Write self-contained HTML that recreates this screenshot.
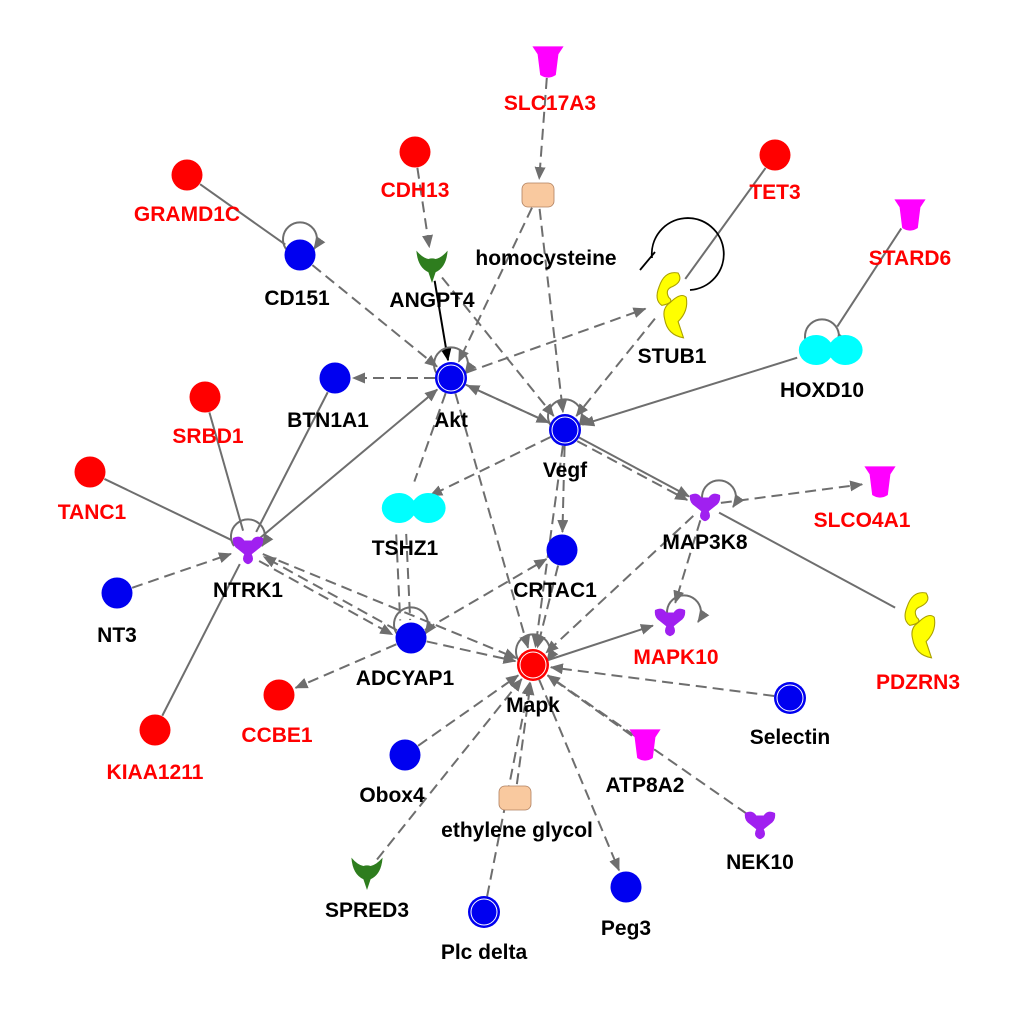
<!DOCTYPE html>
<html><head><meta charset="utf-8"><style>
html,body{margin:0;padding:0;background:#fff;}
svg{display:block;}
text{font-family:"Liberation Sans",Arial,sans-serif;font-weight:bold;font-size:21px;text-anchor:middle;}
.r{fill:#f00}.k{fill:#000}
</style></head><body>
<svg id="s" width="1020" height="1013" viewBox="0 0 1020 1013" xmlns="http://www.w3.org/2000/svg">
<defs>
<marker id="ag" markerWidth="13" markerHeight="11" refX="12" refY="5.5" orient="auto" markerUnits="userSpaceOnUse"><path d="M0,0 L13,5.5 L0,11 z" fill="#6e6e6e"/></marker>
<marker id="ab" markerWidth="13" markerHeight="11" refX="12" refY="5.5" orient="auto" markerUnits="userSpaceOnUse"><path d="M0,0 L13,5.5 L0,11 z" fill="#000"/></marker>
<g id="cup"><g transform="scale(1.3)"><path d="M-12,-12 L12,-12 L8,-6 L6,10 Q0,14 -6,10 L-8,-6 z" fill="#f0f"/></g></g>
<g id="kin"><g transform="scale(1.25)"><path d="M-12,-8 Q-6,-11 -3,-6 L3,-6 Q6,-11 12,-8 Q13,-2 8,1 L3,5 Q6,11 0,13 Q-6,11 -3,5 L-8,1 Q-13,-2 -12,-8 z" fill="#a020f0"/></g></g>
<g id="vshape"><g transform="scale(1.2)"><path d="M-13,-12 Q-8,-6 -3,-5 Q0,-6 3,-5 Q8,-6 13,-12 Q12,2 3,6 L0,15 L-3,6 Q-12,2 -13,-12 z" fill="#2e7d1e"/></g></g>
<g id="peanut"><g transform="scale(1.45,1.25)"><path d="M-22,0 A12,12 0 0 1 -10,-12 Q-4,-12 0,-6 Q4,-12 10,-12 A12,12 0 0 1 10,12 Q4,12 0,6 Q-4,12 -10,12 A12,12 0 0 1 -22,0 z" fill="#00ffff" transform="translate(6,0)"/></g></g>
<g id="peach"><rect x="-16" y="-12" width="32" height="24" rx="6" fill="#f9c99f" stroke="#b08060" stroke-width="0.8"/></g>
<g id="stub"><g transform="scale(1.35)"><path d="M-8,-10 Q-4,-22 6,-20 Q10,-14 2,-10 Q-4,-8 -1,-2 Q4,2 -6,4 Q-12,0 -8,-10 z M0,2 Q8,-6 12,-2 Q14,8 6,16 Q8,22 10,28 Q-2,26 -4,14 Q-6,6 0,2 z" fill="#ffff00" stroke="#aaa000" stroke-width="0.8"/></g></g>
</defs>
<g id="edges"></g>
<g id="nodes"></g>
<g id="labels">
<text x="550" y="110" class="r">SLC17A3</text>
<text x="415" y="197" class="r">CDH13</text>
<text x="187" y="221" class="r">GRAMD1C</text>
<text x="775" y="199" class="r">TET3</text>
<text x="910" y="265" class="r">STARD6</text>
<text x="546" y="265" class="k">homocysteine</text>
<text x="297" y="305" class="k">CD151</text>
<text x="432" y="307" class="k">ANGPT4</text>
<text x="672" y="363" class="k">STUB1</text>
<text x="822" y="397" class="k">HOXD10</text>
<text x="451" y="427" class="k">Akt</text>
<text x="328" y="427" class="k">BTN1A1</text>
<text x="208" y="443" class="r">SRBD1</text>
<text x="565" y="477" class="k">Vegf</text>
<text x="92" y="519" class="r">TANC1</text>
<text x="405" y="555" class="k">TSHZ1</text>
<text x="705" y="549" class="k">MAP3K8</text>
<text x="862" y="527" class="r">SLCO4A1</text>
<text x="555" y="597" class="k">CRTAC1</text>
<text x="248" y="597" class="k">NTRK1</text>
<text x="117" y="642" class="k">NT3</text>
<text x="918" y="689" class="r">PDZRN3</text>
<text x="405" y="685" class="k">ADCYAP1</text>
<text x="676" y="664" class="r">MAPK10</text>
<text x="533" y="712" class="k">Mapk</text>
<text x="277" y="742" class="r">CCBE1</text>
<text x="790" y="744" class="k">Selectin</text>
<text x="155" y="779" class="r">KIAA1211</text>
<text x="392" y="802" class="k">Obox4</text>
<text x="645" y="792" class="k">ATP8A2</text>
<text x="517" y="837" class="k">ethylene glycol</text>
<text x="760" y="869" class="k">NEK10</text>
<text x="367" y="917" class="k">SPRED3</text>
<text x="626" y="935" class="k">Peg3</text>
<text x="484" y="959" class="k">Plc delta</text>
</g>
</svg>
<script>
var N={
SLC17A3:[548,62,'cup',16],CDH13:[415,152,'c',16],GRAMD1C:[187,175,'c',16],TET3:[775,155,'c',16],
STARD6:[910,215,'cup',16],homo:[538,195,'peach',14],CD151:[300,255,'c',16],ANGPT4:[432,265,'v',16],
STUB1:[670,300,'stub',24],HOXD10:[822,350,'pea',26],Akt:[451,378,'d',16],BTN1A1:[335,378,'c',16],
SRBD1:[205,397,'c',16],Vegf:[565,430,'d',16],TANC1:[90,472,'c',16],TSHZ1:[405,508,'pea',26],
MAP3K8:[705,505,'kin',16],SLCO4A1:[880,482,'cup',16],CRTAC1:[562,550,'c',16],NTRK1:[248,548,'kin',16],
NT3:[117,593,'c',16],PDZRN3:[918,620,'stub',24],ADCYAP1:[411,638,'c',16],MAPK10:[670,620,'kin',16],
Mapk:[533,665,'dr',16],CCBE1:[279,695,'c',16],Selectin:[790,698,'d',16],KIAA1211:[155,730,'c',16],
Obox4:[405,755,'c',16],ATP8A2:[645,745,'cup',16],eg:[515,798,'peach',14],NEK10:[760,823,'kin',16],
SPRED3:[367,872,'v',16],Peg3:[626,887,'c',16],Plc:[484,912,'d',16]};
var red=['CDH13','GRAMD1C','TET3','SRBD1','TANC1','CCBE1','KIAA1211'];
var E=[
['GRAMD1C','CD151','s',0],['CD151','Akt','d',1],['CDH13','ANGPT4','d',1],['ANGPT4','Akt','b',1],
['SLC17A3','homo','d',1],['homo','Akt','d',1],['homo','Vegf','d',1],['ANGPT4','Vegf','d',1],
['TET3','STUB1','s',0],['Akt','STUB1','d',1],['STUB1','Vegf','d',1],['STARD6','HOXD10','s',0],
['HOXD10','Vegf','s',1],['Akt','BTN1A1','d',1],['Vegf','Akt','s',1],['Akt','Vegf','d',1],
['Vegf','MAP3K8','s',1],['Vegf','MAP3K8','d',1,4],['Vegf','TSHZ1','d',1],['Vegf','CRTAC1','d',1],
['Akt','Mapk','d',1],['TSHZ1','ADCYAP1','d',0],['TSHZ1','ADCYAP1','d',0,10],['MAP3K8','SLCO4A1','d',1],
['MAP3K8','PDZRN3','s',0],['MAP3K8','MAPK10','d',1],['MAP3K8','Mapk','d',1],['Mapk','MAPK10','s',1],
['CRTAC1','Mapk','d',1],['ADCYAP1','CRTAC1','d',1],['SRBD1','NTRK1','s',0],['TANC1','NTRK1','s',0],
['BTN1A1','NTRK1','s',0],['NTRK1','Akt','s',1],['NT3','NTRK1','d',1],['KIAA1211','NTRK1','s',0],
['ADCYAP1','NTRK1','d',1],['NTRK1','ADCYAP1','d',1,6],['NTRK1','Mapk','d',1],['ADCYAP1','Mapk','d',1],
['ADCYAP1','CCBE1','d',1],['Selectin','Mapk','d',1],['ATP8A2','Mapk','d',1],['NEK10','Mapk','d',1],
['Obox4','Mapk','d',1],['SPRED3','Mapk','d',1],['eg','Mapk','d',1],['Plc','Mapk','d',1],['Mapk','Peg3','d',1],
['Akt','TSHZ1','d',0],['Vegf','Mapk','d',1]];
var ns='http://www.w3.org/2000/svg';
function el(t,a,p){var e=document.createElementNS(ns,t);for(var k in a)e.setAttribute(k,a[k]);document.getElementById(p).appendChild(e);return e;}
E.forEach(function(e){var a=N[e[0]],b=N[e[1]],dx=b[0]-a[0],dy=b[1]-a[1],L=Math.hypot(dx,dy),ux=dx/L,uy=dy/L,o=e[4]||0;
var x1=a[0]+ux*a[3]-uy*o,y1=a[1]+uy*a[3]+ux*o,x2=b[0]-ux*(b[3]+2)-uy*o,y2=b[1]-uy*(b[3]+2)+ux*o;
var at={x1:x1,y1:y1,x2:x2,y2:y2,stroke:e[2]=='b'?'#000':'#6e6e6e','stroke-width':2};
if(e[2]=='d')at['stroke-dasharray']='11,6';
if(e[3])at['marker-end']=e[2]=='b'?'url(#ab)':'url(#ag)';el('line',at,'edges');});
[['CD151',0,-18],['Akt',0,-16],['Vegf',0,-16],['NTRK1',0,-14],['ADCYAP1',0,-16],['Mapk',0,-16],['MAP3K8',14,-10],['MAPK10',14,-10],['HOXD10',0,-16]].forEach(function(s){var n=N[s[0]],cx=n[0]+s[1],cy=n[1]+s[2];
el('path',{d:'M'+(cx-14)+','+(cy+12)+' A17,17 0 1 1 '+(cx+14)+','+(cy+12),fill:'none',stroke:'#6e6e6e','stroke-width':2,'marker-end':'url(#ag)'},'edges');});
el('path',{d:'M652,258 A36,36 0 1 1 690,290',fill:'none',stroke:'#000','stroke-width':1.8},'edges');
el('line',{x1:640,y1:270,x2:655,y2:252,stroke:'#000','stroke-width':1.8},'edges');
for(var k in N){var n=N[k],x=n[0],y=n[1],t=n[2];
if(t=='c')el('circle',{cx:x,cy:y,r:15.5,fill:red.indexOf(k)>=0?'#f00':'#0000f0'},'nodes');
else if(t=='d'||t=='dr'){var f=t=='dr'?'#f00':'#0000f0';el('circle',{cx:x,cy:y,r:16,fill:f},'nodes');el('circle',{cx:x,cy:y,r:13,fill:'none',stroke:'#fff','stroke-width':1},'nodes');}
else{var id={cup:'cup',peach:'peach',v:'vshape',stub:'stub',pea:'peanut',kin:'kin'}[t];el('use',{href:'#'+id,x:x,y:y},'nodes');}}
</script>
</body></html>
